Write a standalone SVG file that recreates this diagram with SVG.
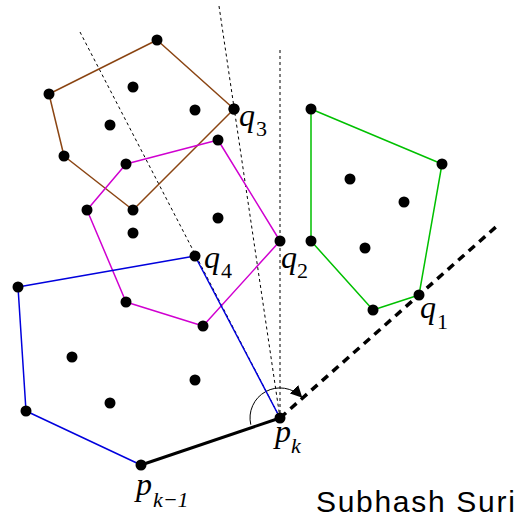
<svg xmlns="http://www.w3.org/2000/svg" width="519" height="518" viewBox="0 0 519 518">
<style>
.hull{fill:none;stroke-width:1.5;stroke-linejoin:round}
.pt{fill:#000}
.lbl{font-family:"Liberation Serif","Times New Roman",serif;font-style:italic;font-size:32px;fill:#000}
.sub{font-family:"Liberation Serif","Times New Roman",serif;font-size:22px;fill:#000}
.dot{stroke:#000;stroke-width:1;stroke-dasharray:3 3;fill:none}
</style>
<defs>
<marker id="ah" viewBox="0 0 10 10" refX="9" refY="5" markerWidth="12" markerHeight="12" markerUnits="userSpaceOnUse" orient="auto">
<path d="M0,0 L10,5 L0,10 Z" fill="#000"/>
</marker>
</defs>
<rect width="519" height="518" fill="#fff"/>
<g id="connectors">
<line class="dot" x1="280" y1="50" x2="280" y2="418"/>
<line class="dot" x1="219" y1="6" x2="280" y2="418"/>
<line class="dot" x1="80" y1="32" x2="280" y2="418"/>
<line x1="280" y1="418" x2="497" y2="226" stroke="#000" stroke-width="3.5" stroke-dasharray="8 6"/>
<path d="M 250.8 424.7 A 30 30 0 0 1 301.5 397" fill="none" stroke="#000" stroke-width="1" marker-end="url(#ah)"/>
</g>
<g id="brown">
<polygon class="hull" stroke="#8B4513" points="157,40 234,109 133,210 64,156 49,94"/>
<circle class="pt" cx="157" cy="40" r="5.5"/><circle class="pt" cx="234" cy="109" r="5.5"/><circle class="pt" cx="133" cy="210" r="5.5"/><circle class="pt" cx="64" cy="156" r="5.5"/><circle class="pt" cx="49" cy="94" r="5.5"/>
<circle class="pt" cx="133" cy="87" r="5.5"/><circle class="pt" cx="195" cy="110" r="5.5"/><circle class="pt" cx="110" cy="125" r="5.5"/>
</g>
<g id="magenta">
<polygon class="hull" stroke="#D000D0" points="126,164 218,140 280,241 203,326 126,302 87,210"/>
<circle class="pt" cx="126" cy="164" r="5.5"/><circle class="pt" cx="218" cy="140" r="5.5"/><circle class="pt" cx="203" cy="326" r="5.5"/><circle class="pt" cx="126" cy="302" r="5.5"/><circle class="pt" cx="87" cy="210" r="5.5"/>
<circle class="pt" cx="218" cy="218" r="5.5"/><circle class="pt" cx="133" cy="233" r="5.5"/>
</g>
<g id="green">
<polygon class="hull" stroke="#00C000" points="311,109 442,164 419,295 373,310 311,241"/>
<circle class="pt" cx="311" cy="109" r="5.5"/><circle class="pt" cx="442" cy="164" r="5.5"/><circle class="pt" cx="373" cy="310" r="5.5"/><circle class="pt" cx="311" cy="241" r="5.5"/>
<circle class="pt" cx="350" cy="179" r="5.5"/><circle class="pt" cx="404" cy="202" r="5.5"/><circle class="pt" cx="365" cy="248" r="5.5"/>
</g>
<g id="blue">
<polyline class="hull" stroke="#0000DD" points="280,418 195,256 18,287 26,411 141,465"/>
<circle class="pt" cx="18" cy="287" r="5.5"/><circle class="pt" cx="26" cy="411" r="5.5"/>
<circle class="pt" cx="72" cy="357" r="5.5"/><circle class="pt" cx="195" cy="380" r="5.5"/><circle class="pt" cx="110" cy="403" r="5.5"/>
</g>
<g id="edge-pk">
<line x1="141" y1="465" x2="280" y2="418" stroke="#000" stroke-width="3"/>
</g>
<g id="q1"><circle class="pt" cx="419" cy="295" r="5.5"/><text class="lbl" x="420" y="318">q</text><text class="sub" x="437" y="329">1</text></g>
<g id="q2"><circle class="pt" cx="280" cy="241" r="5.5"/><text class="lbl" x="281" y="268">q</text><text class="sub" x="297" y="278">2</text></g>
<g id="q3"><circle class="pt" cx="234" cy="109" r="5.5"/><text class="lbl" x="239" y="126">q</text><text class="sub" x="256" y="136">3</text></g>
<g id="q4"><circle class="pt" cx="195" cy="256" r="5.5"/><text class="lbl" x="204" y="268">q</text><text class="sub" x="221" y="278">4</text></g>
<g id="pk"><circle class="pt" cx="280" cy="418" r="5.5"/><text class="lbl" x="275" y="442">p</text><text class="sub" font-style="italic" x="291" y="453">k</text></g>
<g id="pk1"><circle class="pt" cx="141" cy="465" r="5.5"/><text class="lbl" x="136" y="495">p</text><text class="sub" font-style="italic" x="153" y="507">k−1</text></g>
<text x="316" y="512" font-family="'Liberation Sans',Arial,sans-serif" font-size="30" letter-spacing="1.7" fill="#000">Subhash Suri</text>
</svg>
